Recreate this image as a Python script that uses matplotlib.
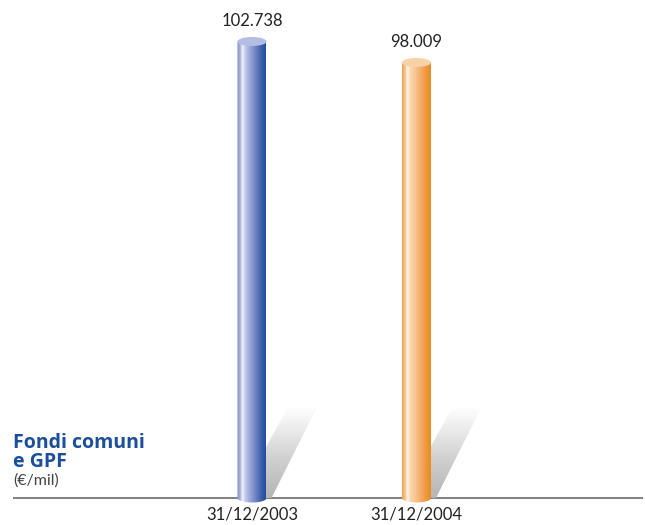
import numpy as np
import matplotlib
matplotlib.use("Agg")
import matplotlib.pyplot as plt
from matplotlib.colors import LinearSegmentedColormap
from matplotlib.patches import Ellipse, PathPatch
from matplotlib.path import Path

###
# Data
###

dates  = ['31/12/2003', '31/12/2004']
values = [102738, 98009]          # Fondi comuni e GPF, EUR million

title_1 = "Fondi comuni"
title_2 = "e GPF"
unit    = "(\u20ac/mil)"

# Cylinder shading, left to right
stops_pos = [0.0, 0.1, 0.2, 0.27, 0.45, 0.65, 0.85, 1.0]
shades = [
    ['#7C8BC8', '#A5B0DD', '#F4F6FC', '#C6CDEA', '#9AA6D8', '#6C82C2', '#3A5FA8', '#1E4F9C'],
    ['#F1A154', '#F7C08A', '#FFF8F0', '#FBD9B5', '#F8C592', '#F4AC68', '#EE963A', '#E98A25'],
]
tops = ['#B4BDE3', '#F9D1A6']

###
# Figure geometry (pixel based)
###

W, H = 645, 525
fig = plt.figure(figsize=(W / 100, H / 100), dpi=100)
ax = fig.add_axes([0, 0, 1, 1])
ax.set_axis_off()

base_px = 498.0            # baseline row
top_px  = 41.5             # row of the tallest cylinder top
x0_px, dx_px = 252.0, 164.5
ppu_y = (base_px - top_px) / max(values)   # pixels per value unit

ax.set_xlim(-x0_px / dx_px, (W - x0_px) / dx_px)
ax.set_ylim(-(H - base_px) / ppu_y, base_px / ppu_y)

def px_w(p):
    return p / dx_px

def px_h(p):
    return p / ppu_y

bar_w = px_w(29)
ell_h = px_h(9)

plt.rcParams['font.family'] = ['Lato', 'DejaVu Sans']

# Baseline
ax.plot([px_w(13 - x0_px), px_w(643 - x0_px)], [0, 0], color='#808080', lw=1.4,
        solid_capstyle='butt', zorder=1)

###
# Cylinders
###

sh_cmap = LinearSegmentedColormap.from_list('sh', [(0.0, '#FFFFFF'), (0.15, '#F4F4F4'),
                                                   (0.55, '#D2D2D2'), (1.0, '#B4B4B4')])

for i, v in enumerate(values):
    xc = i
    xl, xr = xc - bar_w / 2, xc + bar_w / 2

    # shadow cast to the right
    sh = [(xr - px_w(1), 0), (xr - px_w(1), px_h(50)), (xr + px_w(21), px_h(90)),
          (xr + px_w(50), px_h(90)), (xr + px_w(5), 0)]
    sh_path = Path(sh + [sh[0]], [Path.MOVETO] + [Path.LINETO] * (len(sh) - 1) + [Path.CLOSEPOLY])
    sh_patch = PathPatch(sh_path, facecolor='none', edgecolor='none')
    ax.add_patch(sh_patch)
    grad = np.linspace(0, 1, 256).reshape(-1, 1)
    im = ax.imshow(grad, cmap=sh_cmap, aspect='auto', origin='upper',
                   extent=[xr - px_w(2), xr + px_w(54), 0, px_h(92)], zorder=2,
                   interpolation='bilinear')
    im.set_clip_path(sh_patch)

    # body: rectangle with a rounded bottom
    t = np.linspace(np.pi, 2 * np.pi, 60)
    bx = xc + bar_w / 2 * np.cos(t)
    by = ell_h / 2 * np.sin(t)
    verts = list(zip(bx, by)) + [(xr, v), (xl, v), (bx[0], by[0])]
    codes = [Path.MOVETO] + [Path.LINETO] * (len(verts) - 2) + [Path.CLOSEPOLY]
    body = PathPatch(Path(verts, codes), facecolor='none', edgecolor='none')
    ax.add_patch(body)
    cmap = LinearSegmentedColormap.from_list('c%d' % i, list(zip(stops_pos, shades[i])))
    row = np.linspace(0, 1, 200).reshape(1, -1)
    im = ax.imshow(row, cmap=cmap, aspect='auto', extent=[xl, xr, -ell_h, v],
                   zorder=3, interpolation='bilinear')
    im.set_clip_path(body)

    # top cap
    ax.add_patch(Ellipse((xc, v), bar_w, ell_h, facecolor=tops[i], edgecolor='none', zorder=4))

    # value label and date
    lab = '{:,}'.format(v).replace(',', '.')
    ax.text(xc, v + px_h(16), lab, ha='center', va='baseline', fontsize=12, color='#222222')
    ax.text(xc, -px_h(21), dates[i], ha='center', va='baseline', fontsize=12, color='#222222')

###
# Title block
###

ax.text(px_w(13 - x0_px), px_h(base_px - 448), title_1, fontsize=14, fontweight='bold',
        family='Open Sans', color='#1B4E9B', va='baseline')
ax.text(px_w(13 - x0_px), px_h(base_px - 467), title_2, fontsize=14, fontweight='bold',
        family='Open Sans', color='#1B4E9B', va='baseline')
ax.text(px_w(13 - x0_px), px_h(base_px - 485), unit, fontsize=11.5, color='#444444',
        va='baseline')

plt.savefig('out.png', dpi=100)
